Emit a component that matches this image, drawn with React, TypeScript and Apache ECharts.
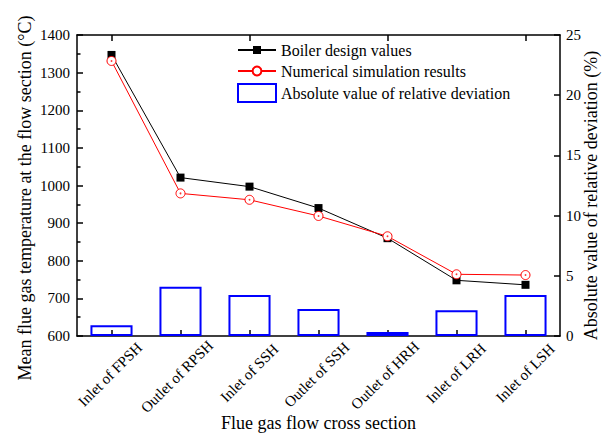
import React, { useEffect, useRef } from "react";
import * as echarts from "echarts";

const categories = [
  "Inlet of FPSH",
  "Outlet of RPSH",
  "Inlet of SSH",
  "Outlet of SSH",
  "Outlet of HRH",
  "Inlet of LRH",
  "Inlet of LSH",
];
const designValues = [1347, 1021, 997, 940, 860, 748, 736];
const simulationValues = [1331, 979, 962, 919, 865, 764, 762];
const deviationValues = [0.89, 4.1, 3.4, 2.24, 0.34, 2.14, 3.4];
const leftTicks = { min: 600, max: 1400, interval: 100 };
const rightTicks = { min: 0, max: 25, interval: 5 };

// per-label vertical adjustment (styling only)
const labelPad = [4, 10, 0, 5, 7, 1.3, 0.5];

const FONT = "'Liberation Serif', 'Times New Roman', serif";
const AXIS_COLOR = "#000";

export default function App() {
  const ref = useRef<HTMLDivElement>(null);
  useEffect(() => {
    if (!ref.current) return;
    const chart = echarts.init(ref.current, undefined, { renderer: "svg" });
    const catData = categories.map((c, i) => ({
      value: c,
      textStyle: {
        align: "center",
        verticalAlign: "middle",
        fontFamily: FONT,
        fontSize: 15,
        color: "#000",
        padding: [labelPad[i], labelPad[i], 0, 0],
      },
    }));
    const numFmt = (v: number) => "{n|" + String(v) + "}";
    const numRich = {
      n: { fontFamily: FONT, fontSize: 15, color: "#000" },
    };
    const legendText = { fontFamily: FONT, fontSize: 16, color: "#000" };
    const tickStyle = { color: AXIS_COLOR, width: 1.5 };
    const option: any = {
      animation: false,
      backgroundColor: "#fff",
      textStyle: { fontFamily: FONT, color: "#000" },
      grid: {
        left: 77,
        right: 43,
        top: 35,
        bottom: 100,
        containLabel: false,
        outerBoundsMode: "none",
      },
      legend: [
        {
          data: ["Boiler design values"],
          left: 237,
          top: 42,
          padding: 0,
          itemWidth: 38,
          itemHeight: 10,
          itemGap: 4,
          textStyle: legendText,
        },
        {
          data: ["Numerical simulation results"],
          left: 237,
          top: 63,
          padding: 0,
          itemWidth: 38,
          itemHeight: 11,
          itemGap: 4,
          textStyle: legendText,
        },
        {
          data: [{ name: "Absolute value of relative deviation", icon: "rect" }],
          left: 237,
          top: 83,
          padding: 0,
          itemWidth: 38,
          itemHeight: 18,
          itemGap: 4,
          textStyle: legendText,
        },
      ],
      xAxis: [
        {
          type: "category",
          data: catData,
          boundaryGap: true,
          position: "bottom",
          name: "Flue gas flow cross section",
          nameLocation: "middle",
          nameGap: 78,
          nameMoveOverlap: false,
          nameTextStyle: { fontFamily: FONT, fontSize: 18, color: "#000" },
          axisLine: { show: true, lineStyle: { color: AXIS_COLOR, width: 1.5 } },
          axisTick: {
            show: true,
            inside: true,
            alignWithLabel: true,
            length: 6,
            lineStyle: tickStyle,
          },
          axisLabel: {
            interval: 0,
            rotate: 45,
            align: "center",
            verticalAlign: "middle",
            margin: 37,
            fontFamily: FONT,
            fontSize: 15,
            color: "#000",
            hideOverlap: false,
          },
          splitLine: { show: false },
        },
        {
          type: "category",
          data: categories,
          boundaryGap: true,
          position: "top",
          axisLine: { show: true, lineStyle: { color: AXIS_COLOR, width: 1.5 } },
          axisTick: {
            show: true,
            inside: true,
            alignWithLabel: true,
            length: 6,
            lineStyle: tickStyle,
          },
          axisLabel: { show: false },
          splitLine: { show: false },
        },
      ],
      yAxis: [
        {
          type: "value",
          min: leftTicks.min,
          max: leftTicks.max,
          interval: leftTicks.interval,
          position: "left",
          name: "Mean flue gas temperature at the flow section (°C)",
          nameLocation: "middle",
          nameRotate: 90,
          nameGap: 43,
          nameMoveOverlap: false,
          nameTextStyle: {
            fontFamily: FONT,
            fontSize: 18,
            color: "#000",
            padding: [0, 25, 0, 0],
          },
          axisLine: { show: true, lineStyle: { color: AXIS_COLOR, width: 1.5 } },
          axisTick: {
            show: true,
            inside: true,
            length: 6,
            lineStyle: tickStyle,
          },
          minorTick: {
            show: true,
            splitNumber: 2,
            length: 3.5,
            lineStyle: tickStyle,
          },
          axisLabel: {
            margin: 7,
            fontFamily: FONT,
            fontSize: 15,
            color: "#000",
            formatter: numFmt,
            rich: numRich,
          },
          splitLine: { show: false },
          minorSplitLine: { show: false },
        },
        {
          type: "value",
          min: rightTicks.min,
          max: rightTicks.max,
          interval: rightTicks.interval,
          position: "right",
          name: "Absolute value of relative deviation (%)",
          nameLocation: "middle",
          nameRotate: 90,
          nameGap: 22,
          nameMoveOverlap: false,
          nameTextStyle: {
            fontFamily: FONT,
            fontSize: 18,
            color: "#000",
            padding: [0, 20, 0, 0],
          },
          axisLine: { show: true, lineStyle: { color: AXIS_COLOR, width: 1.5 } },
          axisTick: {
            show: true,
            inside: true,
            length: 6,
            lineStyle: tickStyle,
          },
          axisLabel: {
            margin: 6,
            fontFamily: FONT,
            fontSize: 15,
            color: "#000",
            formatter: numFmt,
            rich: numRich,
          },
          splitLine: { show: false },
        },
      ],
      series: [
        {
          name: "Absolute value of relative deviation",
          type: "bar",
          xAxisIndex: 0,
          yAxisIndex: 1,
          data: deviationValues,
          barWidth: "61%",
          itemStyle: {
            color: "rgba(255,255,255,0)",
            borderColor: "#0000ff",
            borderWidth: 2,
          },
          z: 2,
        },
        {
          name: "Boiler design values",
          type: "line",
          xAxisIndex: 0,
          yAxisIndex: 0,
          data: designValues,
          symbol: "rect",
          symbolSize: 8,
          lineStyle: { color: "#000", width: 1 },
          itemStyle: { color: "#000" },
          z: 3,
        },
        {
          name: "Numerical simulation results",
          type: "line",
          xAxisIndex: 0,
          yAxisIndex: 0,
          data: simulationValues,
          symbol: "circle",
          symbolSize: 9,
          lineStyle: { color: "#ff0000", width: 1 },
          itemStyle: { color: "#ffffff", borderColor: "#ff0000", borderWidth: 1 },
          z: 4,
        },
        {
          name: "sim-dot",
          type: "scatter",
          xAxisIndex: 0,
          yAxisIndex: 0,
          data: simulationValues,
          symbol: "circle",
          symbolSize: 1.8,
          itemStyle: { color: "#ff0000" },
          silent: true,
          z: 5,
        },
      ],
    };
    chart.setOption(option);
    return () => chart.dispose();
  }, []);
  return (
    <div
      ref={ref}
      style={{ position: "fixed", left: 0, top: 0, width: 603, height: 436 }}
    />
  );
}
